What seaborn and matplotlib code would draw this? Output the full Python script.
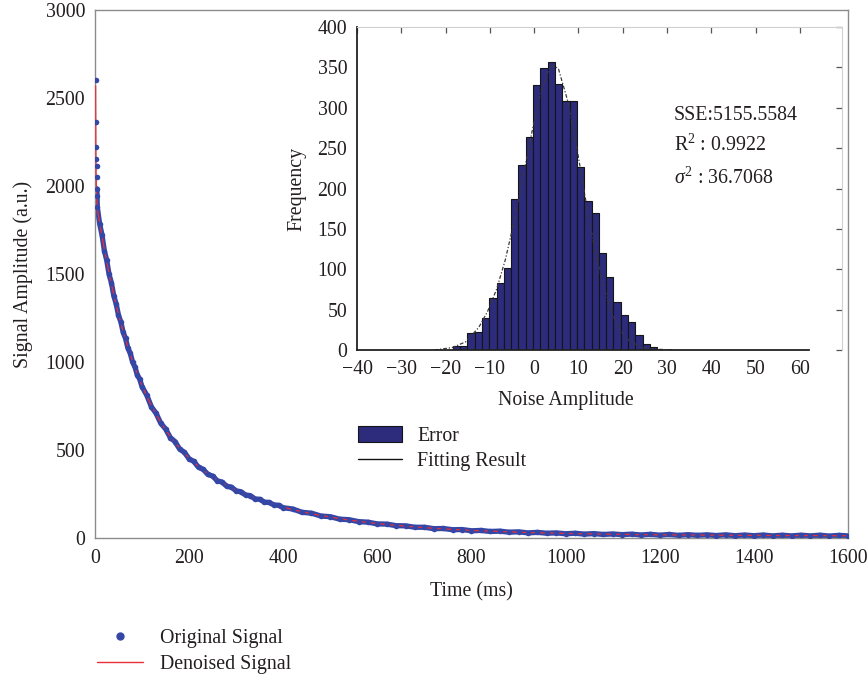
import numpy as np
import pandas as pd
import matplotlib
matplotlib.use('Agg')
import matplotlib.pyplot as plt
import seaborn as sns
from matplotlib.lines import Line2D
from matplotlib.patches import Patch

# ---------------- data ----------------
# denoised signal
t_dn_spike = [1.5, 2, 2.5, 3.2, 4]
y_dn_spike = [2570, 2240, 2070, 1990, 1930]
t_fast = np.arange(5, 101, 5)
t_mid = np.arange(110, 401, 10)
t_slow = np.arange(420, 1601, 20)
y_dn_fast = [1873, 1791, 1714, 1640, 1571, 1505, 1442, 1383, 1326, 1273,
             1222, 1174, 1128, 1085, 1044, 1005, 967, 932, 898, 866]
y_dn_mid = [806, 751, 702, 657, 615, 577, 543, 511, 482, 455,
            430, 407, 385, 366, 347, 330, 314, 299, 285, 272,
            259, 248, 237, 226, 217, 208, 199, 191, 183, 175]
y_dn_slow = [162, 149, 138, 128, 119, 110, 102, 95, 88, 82,
             77, 72, 67, 63, 59, 55, 52, 49, 46, 43,
             41, 39, 37, 35, 33, 31, 30, 29, 27, 26,
             25, 24, 23, 22, 21, 21, 20, 19, 19, 18,
             18, 17, 17, 17, 16, 16, 16, 15, 15, 15,
             15, 14, 14, 14, 14, 14, 14, 13, 13, 13]

# original (noisy) signal
t_or_spike = [1.5, 2, 2.5, 3, 3.3, 3.6, 4, 4.5]
y_or_spike = [2605, 2362, 2220, 2155, 2115, 2050, 1985, 1945]
y_or_fast = [1880, 1785, 1722, 1632, 1578, 1498, 1450, 1376, 1331, 1266,
             1228, 1168, 1134, 1079, 1050, 999, 972, 926, 903, 860]
y_or_mid = [812, 745, 708, 651, 620, 571, 548, 505, 487, 450,
            435, 402, 390, 361, 352, 325, 318, 294, 289, 268,
            263, 244, 241, 222, 220, 204, 202, 188, 186, 172]
y_or_slow = [165, 146, 141, 125, 121, 107, 104, 93, 90, 80,
             79, 70, 69, 61, 61, 53, 54, 47, 48, 41,
             43, 37, 39, 33, 35, 29, 32, 27, 29, 24,
             27, 22, 25, 20, 23, 19, 22, 17, 21, 16,
             20, 15, 19, 15, 18, 14, 18, 13, 17, 13,
             17, 12, 16, 12, 16, 12, 16, 11, 15, 12]

# histogram of the noise
hist_start = -18.4
hist_width = 1.65
hist_counts = [5, 5, 21, 22, 40, 64, 83, 102, 187, 229,
               264, 328, 349, 357, 330, 308, 308, 227, 184, 170,
               120, 91, 59, 43, 35, 18, 7, 4]

# fitted gaussian curve
fit_x = [-22.5, -18.5, -15.5, -12.5, -10.5, -8.5, -6.5, -4.5, -2.5, -0.5,
         1.5, 3.5, 4.5, 5.5, 7.5, 9.5, 11.5, 13.5, 15.5, 17.5, 19.5, 21.5,
         24.5, 27.5, 31.5]
fit_y = [0, 3, 10, 28, 48, 75, 112, 160, 215, 270, 320, 350, 352, 348,
         310, 255, 190, 130, 82, 46, 24, 11, 3, 1, 0]

stats_text = ["SSE:5155.5584", r"R$^2$ : 0.9922", r"$\sigma^2$ : 36.7068"]

main_xticks = list(range(0, 1601, 200))
main_yticks = list(range(0, 3001, 500))
ins_xticks = list(range(-40, 61, 10))
ins_yticks = list(range(0, 401, 50))

# ---------------- style ----------------
sns.set_theme(style='white')
plt.rcParams['font.family'] = ['Liberation Serif', 'DejaVu Serif']
plt.rcParams['mathtext.fontset'] = 'custom'
plt.rcParams['mathtext.rm'] = 'Liberation Serif'
plt.rcParams['mathtext.it'] = 'Liberation Serif:italic'
plt.rcParams['axes.unicode_minus'] = True

FS = 14.3
TXT = '#231f20'
BLUE = '#3547a6'
RED = '#e8303a'
NAVY = '#2c2b7c'

fig = plt.figure(figsize=(8.68, 6.78), dpi=100)

# ---------------- main axes ----------------
ax = fig.add_axes([0.1094, 0.2065, 0.8676, 0.7785])
t_dn = np.concatenate([t_dn_spike, t_fast, t_mid, t_slow])
y_dn = np.concatenate([y_dn_spike, y_dn_fast, y_dn_mid, y_dn_slow])
t_or = np.concatenate([t_or_spike, t_fast, t_mid, t_slow])
y_or = np.concatenate([y_or_spike, y_or_fast, y_or_mid, y_or_slow])
df_dn = pd.DataFrame({'t': t_dn, 'y': y_dn})
df_or = pd.DataFrame({'t': t_or, 'y': y_or})
df_band = df_or[df_or['t'] >= 4]

sns.lineplot(data=df_band, x='t', y='y', ax=ax, color=BLUE, lw=3.8,
             legend=False, zorder=2, sort=False)
sns.lineplot(data=df_dn, x='t', y='y', ax=ax, color=RED, lw=0.9,
             legend=False, zorder=3, sort=False)
sns.scatterplot(data=df_or, x='t', y='y', ax=ax, color=BLUE, s=16,
                linewidth=0, legend=False, zorder=4)

ax.set_xlim(0, 1600)
ax.set_ylim(0, 3000)
ax.set_xticks(main_xticks)
ax.set_yticks(main_yticks)
for s in ax.spines.values():
    s.set_color('#8c8c8c')
    s.set_linewidth(1.0)
ax.tick_params(direction='in', length=5, width=0.9, color='#666666',
               labelsize=FS, labelcolor=TXT)
ax.tick_params(axis='x', pad=8)
ax.tick_params(axis='y', pad=7)
ax.set_xlabel('Time (ms)', fontsize=FS, color=TXT, labelpad=10)
ax.set_ylabel('Signal Amplitude (a.u.)', fontsize=FS, color=TXT, labelpad=9)

# ---------------- inset ----------------
ax2 = fig.add_axes([0.4113, 0.4838, 0.5587, 0.4762])
ax2.set_facecolor('white')
edges = hist_start + hist_width * np.arange(len(hist_counts) + 1)
centers = (edges[:-1] + edges[1:]) / 2
df_hist = pd.DataFrame({'noise': centers, 'count': hist_counts})
sns.histplot(data=df_hist, x='noise', weights='count', bins=list(edges), ax=ax2,
             color=NAVY, edgecolor='#151515', linewidth=0.8, alpha=1)
df_fit = pd.DataFrame({'x': fit_x, 'y': fit_y})
sns.lineplot(data=df_fit, x='x', y='y', ax=ax2, color='#3a3a3a', lw=0.9,
             linestyle=(0, (3, 1.5, 1, 1.5)), legend=False)
ax2.set_xlim(-40, 69.5)
ax2.set_ylim(0, 400)
ax2.set_xticks(ins_xticks)
ax2.set_yticks(ins_yticks)
for k in ['left', 'bottom']:
    ax2.spines[k].set_color('#222222')
    ax2.spines[k].set_linewidth(1.3)
ax2.spines['bottom'].set_bounds(-40, 62)
for k in ['top', 'right']:
    ax2.spines[k].set_color('#d0d0d0')
    ax2.spines[k].set_linewidth(0.8)
ax2.tick_params(direction='in', length=4, width=0.9, color='#555555',
                labelsize=FS, labelcolor=TXT, top=True, right=True,
                labeltop=False, labelright=False)
ax2.tick_params(axis='x', pad=7)
ax2.tick_params(axis='y', pad=7)
ax2.set_xlabel('Noise Amplitude', fontsize=FS, color=TXT, labelpad=8)
ax2.xaxis.set_label_coords(0.431, -0.128)
ax2.set_ylabel('Frequency', fontsize=FS, color=TXT, labelpad=8)
for txt, yy in zip(stats_text, [290.5, 253.5, 212.5]):
    ax2.text(31.6, yy, txt, fontsize=FS, color=TXT, va='center', ha='left')

# ---------------- legends ----------------
h_main = [Line2D([], [], marker='o', color=BLUE, ls='none', markersize=5),
          Line2D([], [], color=RED, lw=1.0)]
fig.legend(h_main, ['Original Signal', 'Denoised Signal'], loc='upper left',
           bbox_to_anchor=(0.0916, 0.0982), frameon=False, fontsize=FS,
           handlelength=2.3, handletextpad=0.85, labelspacing=0.35,
           labelcolor=TXT)

h_ins = [Patch(facecolor=NAVY, edgecolor='#151515', lw=0.8),
         Line2D([], [], color='#111111', lw=1.0)]
fig.legend(h_ins, ['Error', 'Fitting Result'], loc='upper left',
           bbox_to_anchor=(0.3923, 0.3975), frameon=False, fontsize=FS,
           handlelength=2.2, handleheight=0.8, handletextpad=0.75,
           labelspacing=0.3, labelcolor=TXT)

fig.savefig('out.png', dpi=100)
